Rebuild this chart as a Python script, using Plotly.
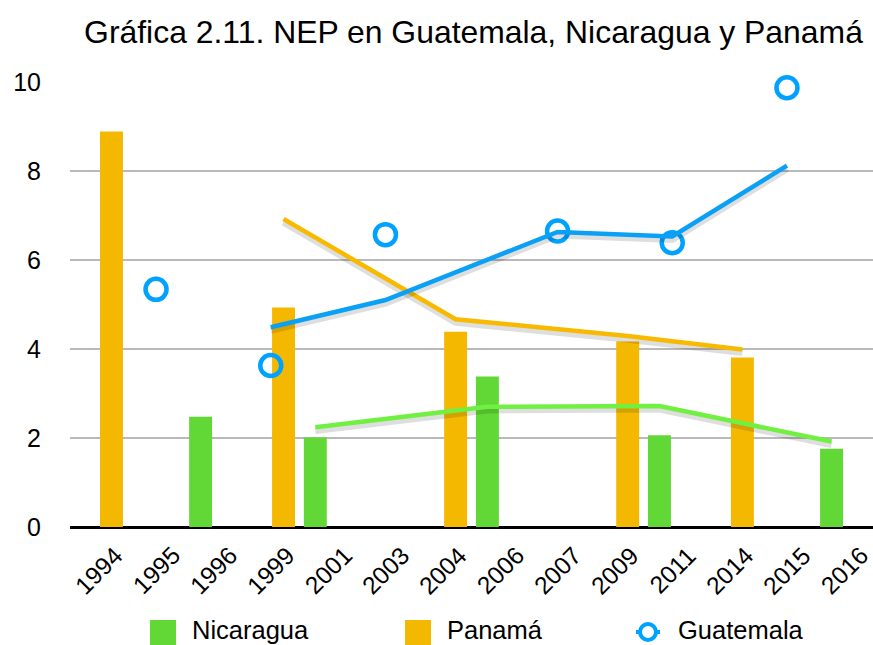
import plotly.graph_objects as go

# ---------------- data ----------------
categories = ["1994", "1995", "1996", "1999", "2001", "2003", "2004",
              "2006", "2007", "2009", "2011", "2014", "2015", "2016"]

nicaragua_years = ["1996", "2001", "2006", "2011", "2016"]
nicaragua_values = [2.48, 2.01, 3.38, 2.06, 1.76]

panama_years = ["1994", "1999", "2004", "2009", "2014"]
panama_values = [8.89, 4.93, 4.39, 4.17, 3.81]

guatemala_years = ["1995", "1999", "2003", "2007", "2011", "2015"]
guatemala_values = [5.34, 3.63, 6.57, 6.65, 6.39, 9.87]

# trend lines (2-period moving average as drawn in the reference)
nicaragua_trend_years = ["2001", "2006", "2011", "2016"]
nicaragua_trend_values = [2.24, 2.70, 2.72, 1.92]

panama_trend_years = ["1999", "2004", "2009", "2014"]
panama_trend_values = [6.92, 4.67, 4.29, 3.99]

guatemala_trend_years = ["1999", "2003", "2007", "2011", "2015"]
guatemala_trend_values = [4.49, 5.10, 6.63, 6.53, 8.12]

title_text = "Gráfica 2.11. NEP en Guatemala, Nicaragua y Panamá"
series_names = ["Nicaragua", "Panamá", "Guatemala"]
y_ticks = [0, 2, 4, 6, 8, 10]

# ---------------- style ----------------
GREEN = "#61D836"
ORANGE = "#F5B800"
BLUE = "#00A2FF"
GREEN_TREND = "#70F040"
ORANGE_TREND = "#F8BA00"
BLUE_TREND = "#0AA0F5"
SHADOW = "rgba(0,0,0,0.13)"
FONT = "Liberation Sans, Arial, Helvetica, sans-serif"

W, H = 873, 645
L, R, T, B = 70, 0, 82, 118
PW, PH = W - L - R, H - T - B

BAR_W = 0.40
BAR_SHIFT = 0.223  # half distance between paired bar centres (category units)


def px(x):
    return (x - L) / PW


def py(y):
    return (H - B - y) / PH


def idx(years):
    return [categories.index(y) for y in years]


fig = go.Figure()

# bars
fig.add_trace(go.Bar(
    x=idx(nicaragua_years), y=nicaragua_values, name=series_names[0],
    width=BAR_W, offset=-BAR_SHIFT - BAR_W / 2,
    marker=dict(color=GREEN, line=dict(width=0)), showlegend=False))
fig.add_trace(go.Bar(
    x=idx(panama_years), y=panama_values, name=series_names[1],
    width=BAR_W, offset=BAR_SHIFT - BAR_W / 2,
    marker=dict(color=ORANGE, line=dict(width=0)), showlegend=False))

# Guatemala markers
fig.add_trace(go.Scatter(
    x=idx(guatemala_years), y=guatemala_values, name=series_names[2],
    mode="markers", cliponaxis=False,
    marker=dict(symbol="circle-open", size=21, color=BLUE,
                line=dict(width=4.5, color=BLUE)),
    showlegend=False))

# trend lines with soft shadow
trends = [
    ([i - BAR_SHIFT for i in idx(nicaragua_trend_years)], nicaragua_trend_values, GREEN_TREND),
    ([i + BAR_SHIFT for i in idx(panama_trend_years)], panama_trend_values, ORANGE_TREND),
    (idx(guatemala_trend_years), guatemala_trend_values, BLUE_TREND),
]
for xs, ys, col in trends:
    fig.add_trace(go.Scatter(
        x=xs, y=[v - 0.07 for v in ys], mode="lines", cliponaxis=False,
        line=dict(color=SHADOW, width=7), showlegend=False, hoverinfo="skip"))
    fig.add_trace(go.Scatter(
        x=xs, y=ys, mode="lines", cliponaxis=False,
        line=dict(color=col, width=4.5), showlegend=False, hoverinfo="skip"))

annotations = []
# rotated category labels centred under each category
for i, cat in enumerate(categories):
    annotations.append(dict(
        x=i, xref="x", y=py(570), yref="paper", text=cat, showarrow=False,
        textangle=-45, xanchor="center", yanchor="middle",
        font=dict(family=FONT, size=24.5, color="#000000")))

# manual legend
shapes = [
    dict(type="rect", xref="paper", yref="paper", x0=px(150), x1=px(176),
         y0=py(645), y1=py(620), fillcolor=GREEN, line=dict(width=0)),
    dict(type="rect", xref="paper", yref="paper", x0=px(405), x1=px(431),
         y0=py(645), y1=py(620), fillcolor=ORANGE, line=dict(width=0)),
    dict(type="line", xref="paper", yref="paper", x0=px(636), x1=px(660),
         y0=py(632), y1=py(632), line=dict(color=BLUE, width=4)),
    dict(type="circle", xref="paper", yref="paper", x0=px(640), x1=px(656),
         y0=py(640), y1=py(624), fillcolor="white", line=dict(color=BLUE, width=4)),
]
for name, xpos in zip(series_names, [191, 446, 677]):
    annotations.append(dict(
        x=px(xpos), xref="paper", y=py(630), yref="paper", text=name,
        showarrow=False, xanchor="left", yanchor="middle", borderpad=0,
        font=dict(family=FONT, size=25.5, color="#000000")))

fig.update_layout(
    width=W, height=H,
    margin=dict(l=L, r=R, t=T, b=B, pad=0),
    paper_bgcolor="white", plot_bgcolor="white",
    barmode="overlay",
    hovermode=False,
    title=dict(text=title_text, x=473.5 / W, xanchor="center",
               y=1 - 32 / H, yanchor="middle", yref="container",
               font=dict(family=FONT, size=31.9, color="#000000")),
    xaxis=dict(range=[-0.5, len(categories) - 0.5], showticklabels=False,
               showgrid=False, zeroline=False, showline=False, fixedrange=True),
    yaxis=dict(range=[0, 10], tickvals=y_ticks, showgrid=True,
               gridcolor="#b9b9b9", gridwidth=2,
               zeroline=True, zerolinecolor="#000000", zerolinewidth=2.5,
               showline=False, ticks="", ticklabelstandoff=28,
               tickfont=dict(family=FONT, size=25, color="#000000"),
               fixedrange=True),
    annotations=annotations,
    shapes=shapes,
)

fig.write_html(
    "out.html",
    config={"displayModeBar": False},
    post_script="document.body.style.margin='0px';document.body.style.overflow='hidden';",
)
